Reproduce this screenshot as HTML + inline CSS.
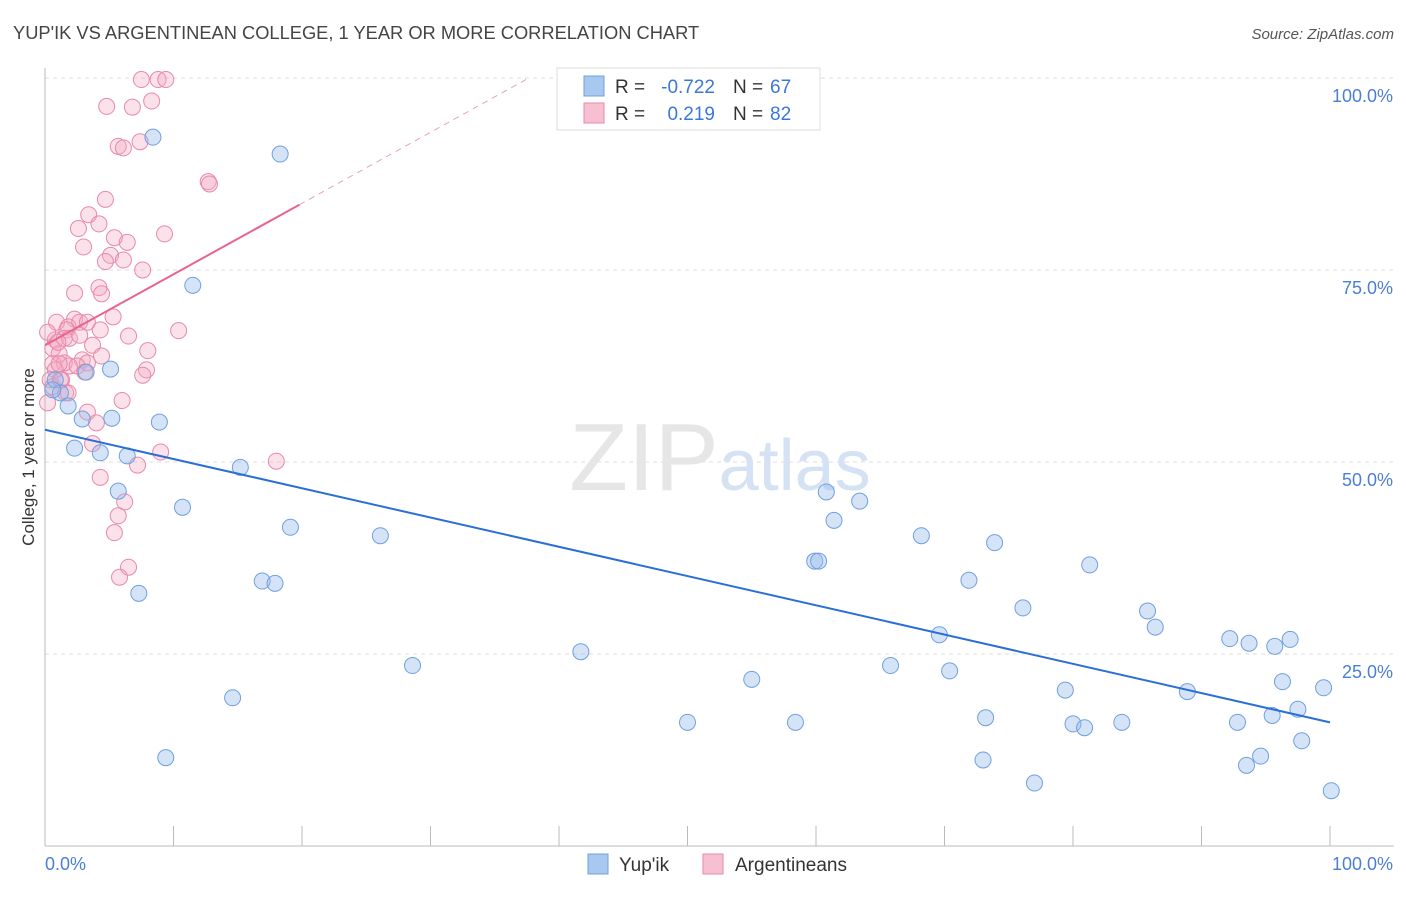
<!DOCTYPE html>
<html><head><meta charset="utf-8"><style>
body{margin:0;background:#fff;font-family:"Liberation Sans",sans-serif}
svg text{font-family:"Liberation Sans",sans-serif}
</style></head><body>
<svg id="chart" width="1406" height="892" viewBox="0 0 1406 892" xmlns="http://www.w3.org/2000/svg">
<text x="13" y="39" font-size="18.3" fill="#444">YUP'IK VS ARGENTINEAN COLLEGE, 1 YEAR OR MORE CORRELATION CHART</text>
<text x="1394" y="39" font-size="15" fill="#555" text-anchor="end" font-style="italic">Source: ZipAtlas.com</text>
<g id="grid"></g>
<text x="720" y="490" font-size="96" text-anchor="middle" fill="#e6e6e6" font-family="Liberation Serif">ZIP<tspan fill="#d4e2f4" font-family="Liberation Sans" font-size="72">atlas</tspan></text>
<g id="pts"></g>
<g id="lines"></g>
<text transform="translate(34,457) rotate(-90)" font-size="17" fill="#333" text-anchor="middle">College, 1 year or more</text>
<g>
<rect x="557" y="68" width="263" height="62" fill="#fff" stroke="#ddd"/>
<rect x="584" y="76" width="20" height="20" fill="#a9c8f0" stroke="#6fa0e0"/>
<rect x="584" y="103" width="20" height="20" fill="#f7c0d2" stroke="#e889a8"/>
<text x="615" y="93" font-size="19" fill="#333">R =</text>
<text x="715" y="93" font-size="19" fill="#3a78d8" text-anchor="end">-0.722</text>
<text x="733" y="93" font-size="19" fill="#333">N =</text>
<text x="770" y="93" font-size="19" fill="#3a78d8">67</text>
<text x="615" y="120" font-size="19" fill="#333">R =</text>
<text x="715" y="120" font-size="19" fill="#3a78d8" text-anchor="end">0.219</text>
<text x="733" y="120" font-size="19" fill="#333">N =</text>
<text x="770" y="120" font-size="19" fill="#3a78d8">82</text>
</g>
<g>
<rect x="588" y="854" width="20" height="20" fill="#a9c8f0" stroke="#6fa0e0"/>
<text x="619" y="871" font-size="19" fill="#333">Yup'ik</text>
<rect x="703" y="854" width="20" height="20" fill="#f7c0d2" stroke="#e889a8"/>
<text x="735" y="871" font-size="19" fill="#333">Argentineans</text>
</g>
<text x="45" y="870" font-size="18" fill="#4a7fd4">0.0%</text>
<text x="1393" y="870" font-size="18" fill="#4a7fd4" text-anchor="end">100.0%</text>
</svg>
<script>
const yTicks=[100,75,50,25];
const xTicks=[0,10,20,30,40,50,60,70,80,90,100];
const blueX=[8.4,18.3,11.5,3.2,5.1,0.8,1.2,1.8,2.9,5.2,8.9,2.3,4.3,6.4,15.2,5.7,10.7,19.1,26.1,16.9,17.9,7.3,14.6,9.4,28.6,41.7,55.0,50.0,58.4,60.8,61.4,63.4,59.9,60.2,68.2,73.9,71.9,69.6,65.8,70.4,76.1,81.3,85.8,86.4,79.4,73.2,73.0,77.0,80.0,80.9,83.8,88.9,92.2,93.7,95.7,96.9,96.3,99.5,92.8,95.5,97.5,94.6,93.5,97.8,100.1,0.6];
const blueY=[92.3,90.1,73.0,61.7,62.1,60.7,59.0,57.3,55.6,55.7,55.2,51.8,51.2,50.8,49.3,46.2,44.1,41.5,40.4,34.5,34.2,32.9,19.3,11.5,23.5,25.3,21.7,16.1,16.1,46.1,42.4,44.9,37.1,37.1,40.4,39.5,34.6,27.5,23.5,22.8,31.0,36.6,30.6,28.5,20.3,16.7,11.2,8.2,15.9,15.4,16.1,20.1,27.0,26.4,26.0,26.9,21.4,20.6,16.1,17.0,17.8,11.7,10.5,13.7,7.2,59.4];
const pinkX=[7.5,8.8,9.4,4.8,6.8,8.3,5.7,6.1,7.4,12.7,12.8,4.7,3.4,4.2,2.6,9.3,3.0,5.4,6.4,5.1,4.7,6.1,7.6,4.2,4.4,2.3,5.3,0.9,2.3,1.8,2.7,3.3,1.7,10.4,6.5,0.8,1.5,1.9,2.7,3.7,0.6,8.0,1.1,2.9,4.4,3.3,0.6,1.9,1.5,7.9,7.6,0.8,0.4,1.3,0.6,0.2,1.6,6.0,3.3,4.0,3.7,9.0,7.2,18.0,4.3,6.2,5.7,5.4,6.5,5.8,1.1,2.5,1.8,4.3,0.2,1.0,3.1,1.2];
const pinkY=[99.8,99.8,99.8,96.3,96.2,97.0,91.1,90.9,91.7,86.5,86.2,84.2,82.2,81.0,80.4,79.7,78.0,79.2,78.6,76.9,76.1,76.3,75.0,72.7,71.9,72.0,68.9,68.2,68.6,67.6,68.2,68.2,67.2,67.1,66.4,65.9,66.1,66.1,66.5,65.2,64.8,64.5,64.1,63.3,63.8,62.9,62.8,62.5,62.9,62.0,61.3,62.0,60.7,60.7,59.8,57.7,59.0,58.0,56.5,55.1,52.4,51.3,49.6,50.1,48.0,44.8,43.0,40.8,36.3,35.0,62.8,62.5,59.0,67.2,66.9,65.6,61.7,60.7];
const blueFit=[54.2,16.1];
const pinkFit=[65.2,83.5];const pinkFitX=19.8;
const NS="http://www.w3.org/2000/svg";
const sx=v=>45+v*12.85, sy=v=>846-v*7.68;
function mk(t,a,p){const e=document.createElementNS(NS,t);for(const k in a)e.setAttribute(k,a[k]);p.appendChild(e);return e;}
const grid=document.getElementById('grid');
yTicks.forEach(t=>{
 const l=mk('line',{x1:45,x2:1394,y1:sy(t),y2:sy(t),stroke:'#ddd','stroke-dasharray':'4,4'},grid);
 
 
 const tx=mk('text',{x:1393,y:sy(t)+24,'font-size':18,fill:'#4a7fd4','text-anchor':'end'},grid);
 tx.textContent=t.toFixed(1)+'%';
 
 
});
const ax=mk('line',{x1:45,x2:1394,y1:846,y2:846,stroke:'#bbb'},grid);


const ay=mk('line',{x1:45,x2:45,y1:68,y2:846,stroke:'#bbb'},grid);


xTicks.forEach(t=>{const l=mk('line',{x1:sx(t),x2:sx(t),y1:826,y2:846,stroke:'#bbb'},grid);
 
 });
const pts=document.getElementById('pts');
pinkX.forEach((x,i)=>{const c=mk('circle',{cx:sx(x),cy:sy(pinkY[i]),r:8,fill:'rgba(244,170,195,0.35)',stroke:'#e889a8','stroke-width':1},pts);
 
 });
blueX.forEach((x,i)=>{const c=mk('circle',{cx:sx(x),cy:sy(blueY[i]),r:8,fill:'rgba(150,185,235,0.4)',stroke:'#6fa0e0','stroke-width':1},pts);
 
 });
const lg=document.getElementById('lines');
const bl=mk('line',{x1:sx(0),y1:sy(blueFit[0]),x2:sx(100),y2:sy(blueFit[1]),stroke:'#2a6fd6','stroke-width':2},lg);


const slope=(pinkFit[1]-pinkFit[0])/pinkFitX;const xEnd=(100-pinkFit[0])/slope;
const pd=mk('line',{x1:sx(pinkFitX),y1:sy(pinkFit[1]),x2:sx(xEnd),y2:sy(100),stroke:'#e8a0b8','stroke-width':1,'stroke-dasharray':'6,5'},lg);


const pl=mk('line',{x1:sx(0),y1:sy(pinkFit[0]),x2:sx(pinkFitX),y2:sy(pinkFit[1]),stroke:'#e8638e','stroke-width':2},lg);


</script>
</body></html>
